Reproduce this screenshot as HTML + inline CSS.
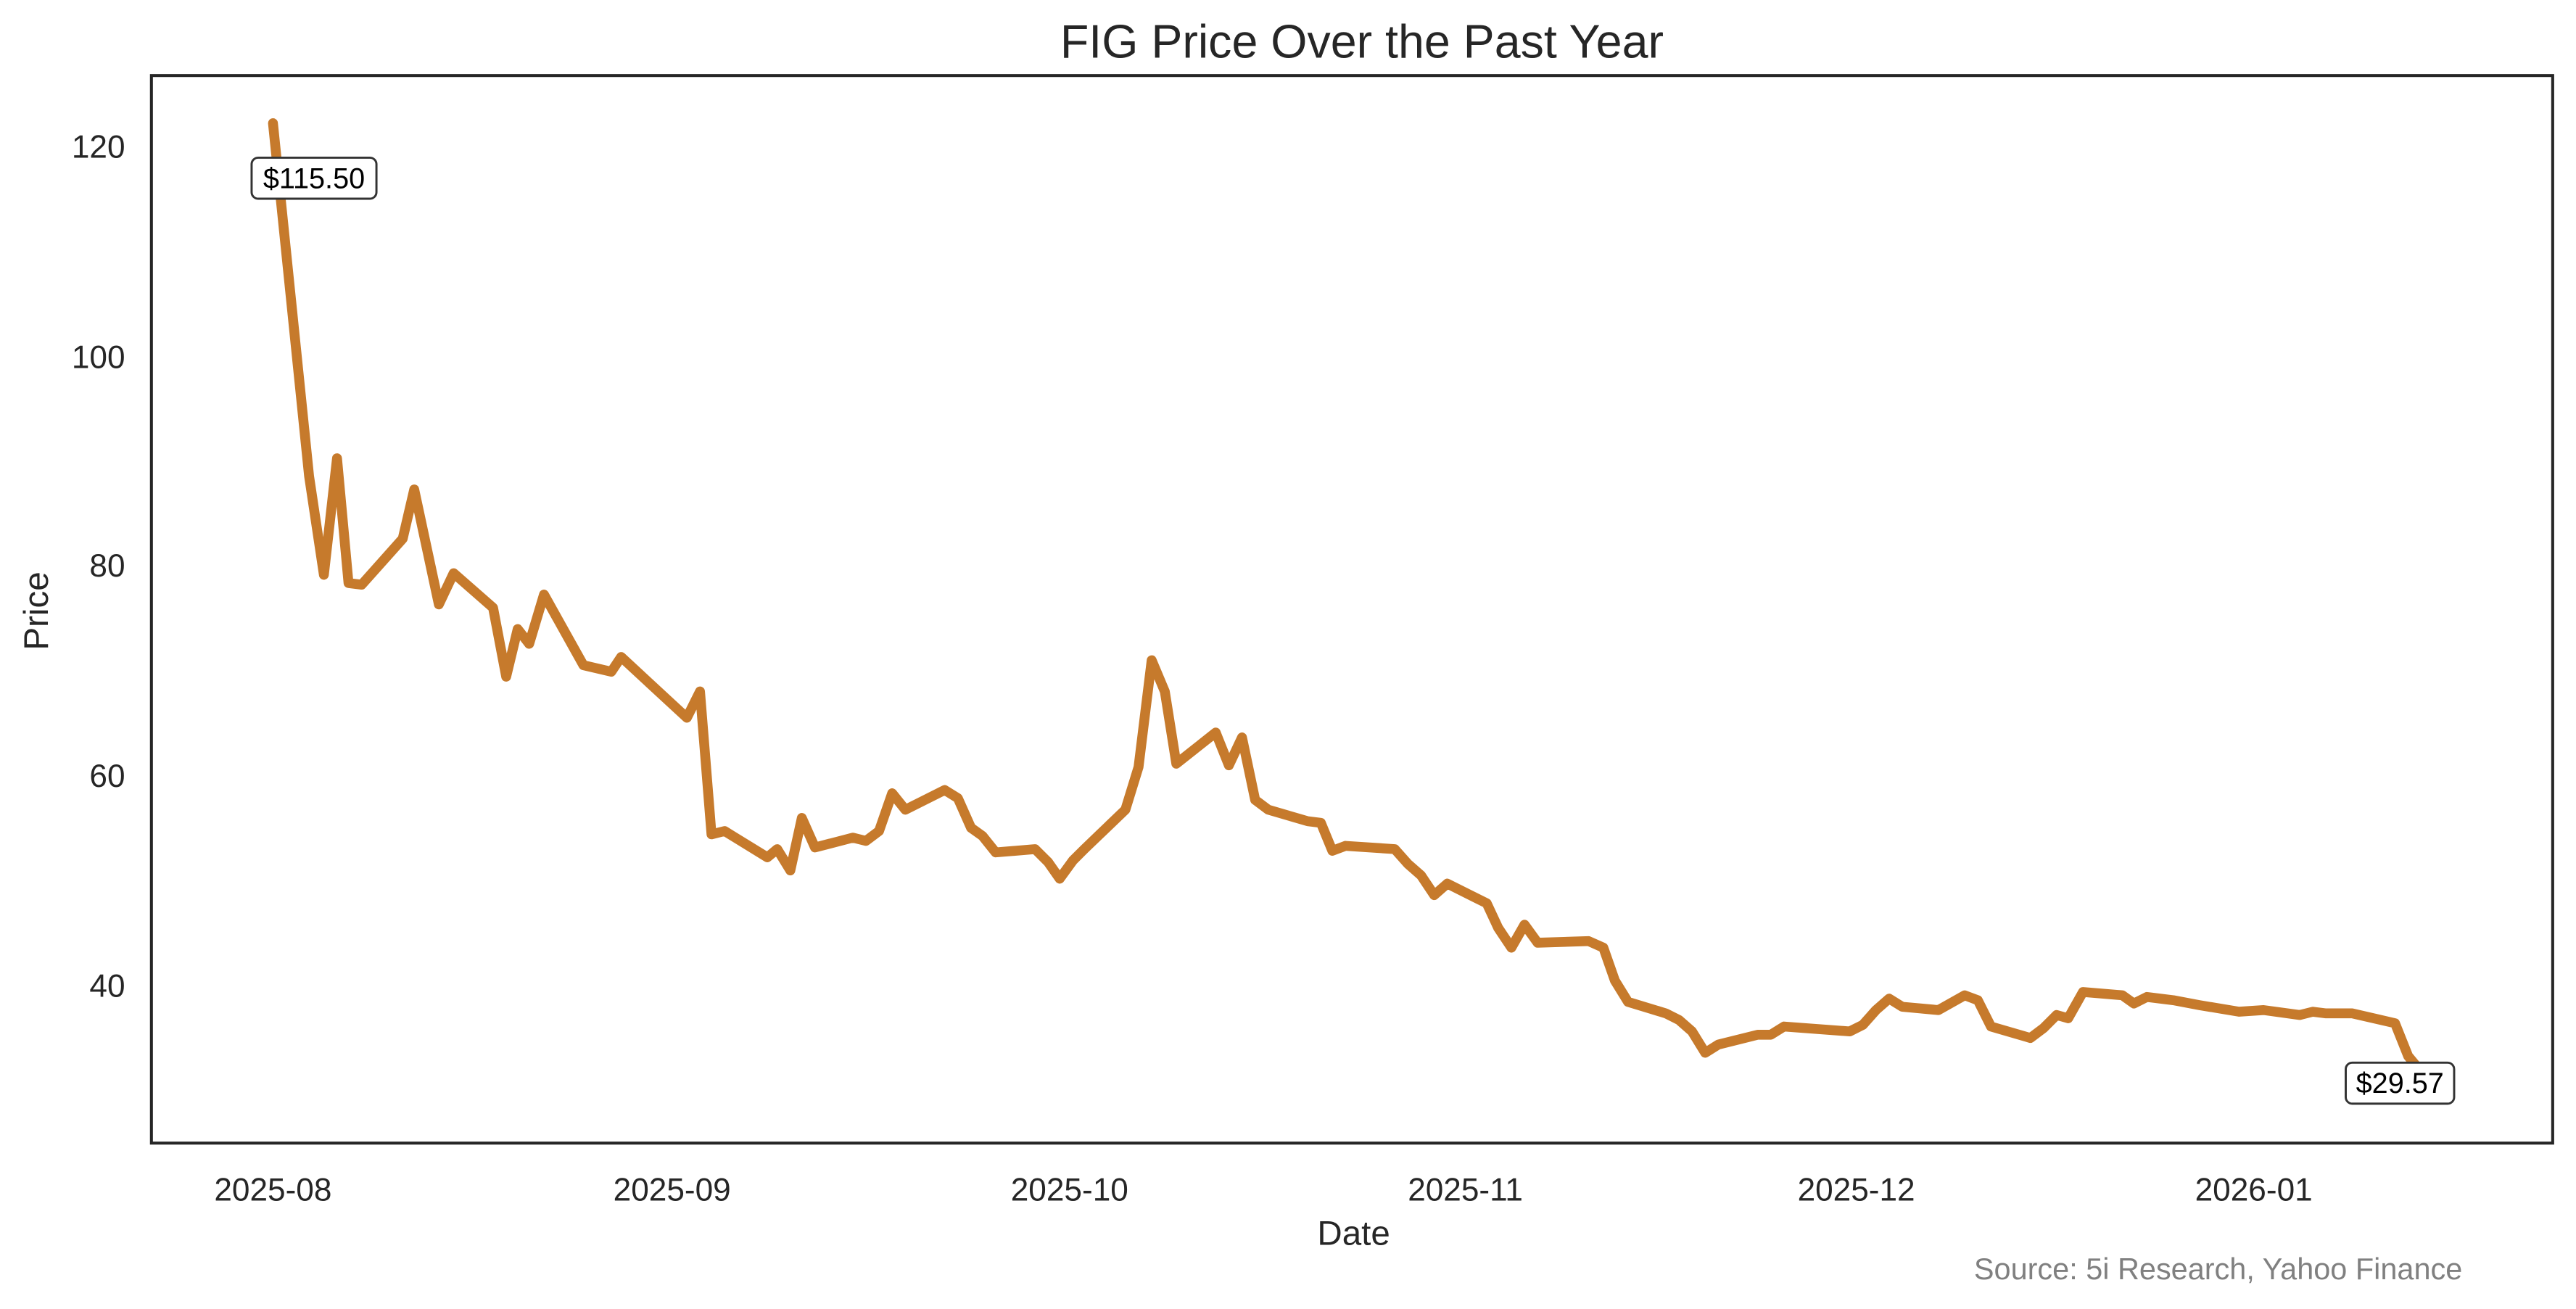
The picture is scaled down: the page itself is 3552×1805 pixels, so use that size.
<!DOCTYPE html>
<html><head><meta charset="utf-8"><style>
html,body{margin:0;padding:0;background:#fff;}
svg{display:block;}
</style></head><body>
<svg width="3552" height="1805" viewBox="0 0 1568 797" xmlns="http://www.w3.org/2000/svg" font-family="Liberation Sans, Arial, sans-serif">
<rect width="1568" height="797" fill="#fff"/>
<text x="829" y="35" font-size="28.5" text-anchor="middle" fill="#262626">FIG Price Over the Past Year</text>
<g font-size="19.5" fill="#262626" text-anchor="end">
<text x="76" y="96">120</text>
<text x="76" y="224">100</text>
<text x="76" y="351">80</text>
<text x="76" y="479">60</text>
<text x="76" y="607">40</text>
</g>
<g font-size="19.5" fill="#262626" text-anchor="middle">
<text x="166" y="731">2025-08</text>
<text x="409" y="731">2025-09</text>
<text x="651" y="731">2025-10</text>
<text x="892" y="731">2025-11</text>
<text x="1130" y="731">2025-12</text>
<text x="1372" y="731">2026-01</text>
</g>
<text x="824" y="758" font-size="21" text-anchor="middle" fill="#262626">Date</text>
<text transform="translate(29,372) rotate(-90)" font-size="21" text-anchor="middle" fill="#262626">Price</text>
<text x="1499" y="779" font-size="18.3" text-anchor="end" fill="#808080">Source: 5i Research, Yahoo Finance</text>
<polyline fill="none" stroke="#c67a2c" stroke-width="6" stroke-linejoin="round" stroke-linecap="round" points="166,75 188,290 197,350 205,279 212,355 220,356 245,328 252,298 267,368 276,349 300,370 308,412 315,383 322,392 331,362 355,405 372,409 378,400 418,437 426,421 433,508 441,506 467,522 473,517 481,530 488,498 496,516 519,510 527,512 535,506 543,483 551,493 575,481 583,486 591,504 598,509 606,519 630,517 638,525 645,535 653,524 660,517 685,493 693,467 701,402 709,421 716,465 740,446 748,466 756,449 764,487 772,493 796,500 804,501 811,518 819,515 849,517 857,526 865,533 873,545 881,538 905,550 912,565 920,577 928,563 936,574 967,573 976,577 983,597 991,610 1014,617 1022,621 1030,628 1038,641 1046,636 1070,630 1078,630 1086,625 1126,628 1134,624 1142,615 1150,608 1158,613 1180,615 1196,606 1204,609 1212,625 1236,632 1244,626 1252,618 1259,620 1268,604 1292,606 1299,611 1307,607 1323,609 1339,612 1363,616 1378,615 1400,618 1408,616 1416,617 1432,617 1458,623 1466,643 1471,649"/>
<rect x="92" y="46" width="1462" height="650" fill="none" stroke="#262626" stroke-width="1.8"/>
<rect x="153" y="96" width="76" height="25" rx="4" fill="#fff" stroke="#333" stroke-width="1.3"/>
<text x="191" y="114.5" font-size="17.5" text-anchor="middle" fill="#000">$115.50</text>
<rect x="1428" y="647" width="66" height="25" rx="4" fill="#fff" stroke="#333" stroke-width="1.3"/>
<text x="1461" y="665.5" font-size="17.5" text-anchor="middle" fill="#000">$29.57</text>
</svg>
</body></html>
